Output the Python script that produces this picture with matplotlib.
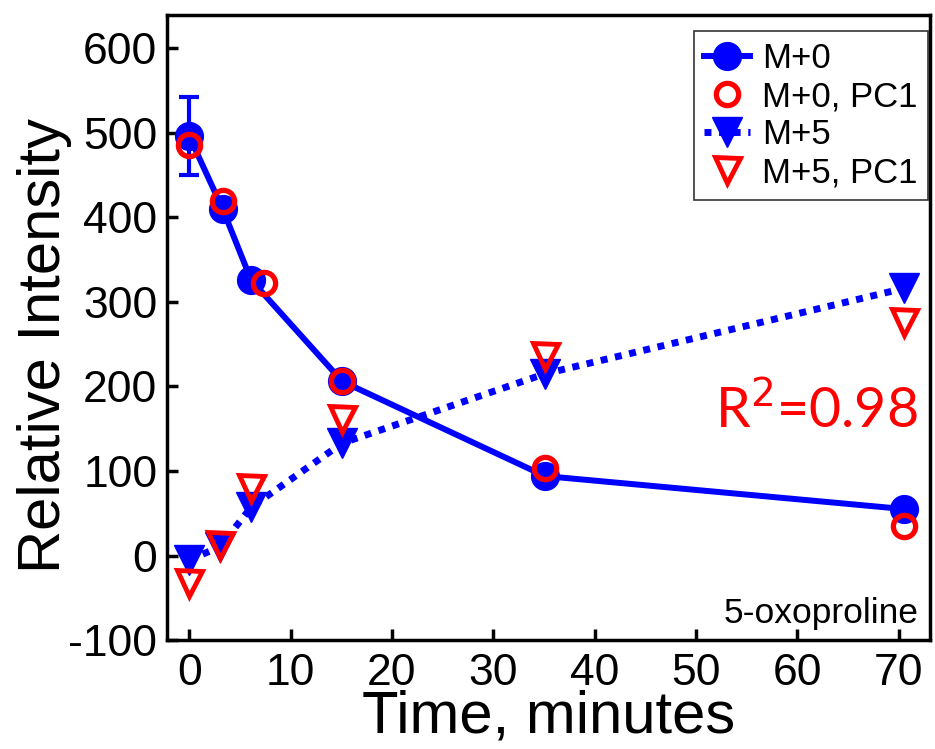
import numpy as np
import matplotlib
matplotlib.use("Agg")
from matplotlib import pyplot as plt

# time points (minutes)
t_m0 = [0, 3.3, 6.1, 15.1, 35.1, 70.5]
m0 = [496, 410, 326, 206, 94, 55]
m0_err = [46, 0, 0, 0, 0, 0]

t_m0_pc1 = [0, 3.3, 7.4, 15.1, 35.1, 70.5]
m0_pc1 = [486, 419, 323, 207, 103, 35]

t_m5 = [0, 3.0, 6.1, 15.1, 35.1, 70.5]
m5 = [-5, 10, 57, 133, 215, 316]

t_m5_pc1 = [0, 3.0, 6.1, 15.1, 35.1, 70.5]
m5_pc1 = [-32, 12, 80, 162, 236, 276]

xticks = [0, 10, 20, 30, 40, 50, 60, 70]
yticks = [-100, 0, 100, 200, 300, 400, 500, 600]

plt.rcParams['font.family'] = ['Liberation Sans', 'DejaVu Sans']
plt.rcParams['axes.unicode_minus'] = False

fig = plt.figure(figsize=(9.35, 7.49), dpi=100)
ax = fig.add_axes([0.1786, 0.1455, 0.816, 0.835])

blue = '#0000ff'
red = '#ff0000'

eb = ax.errorbar(t_m0, m0, yerr=m0_err, color=blue, lw=4.3, marker='o', ms=20,
                 capsize=7, capthick=3, elinewidth=3, zorder=3)
h1 = eb[0]
h2, = ax.plot(t_m0_pc1, m0_pc1, ls='none', marker='o', ms=16, mfc='none',
              mec=red, mew=3.8, zorder=4)
h3, = ax.plot(t_m5, m5, color=blue, lw=5, ls=(0, (1, 1.1)), marker='v', ms=22,
              zorder=3)
h4, = ax.plot(t_m5_pc1, m5_pc1, ls='none', marker='v', ms=18, mfc='none',
              mec=red, mew=3.5, zorder=4)

ax.set_xlim(-2.2, 73.1)
ax.set_ylim(-100, 640)
ax.set_xticks(xticks)
ax.set_yticks(yticks)
ax.tick_params(direction='in', length=8, width=2.5, labelsize=32)
ax.tick_params(axis='y', pad=7)
ax.tick_params(axis='x', pad=9)
for s in ax.spines.values():
    s.set_linewidth(2.5)

ax.set_xlabel('Time, minutes', fontsize=43, labelpad=-3)
ax.set_ylabel('Relative Intensity', fontsize=43, labelpad=-3)
ax.yaxis.label.set_y(0.471)

ax.text(71.9, 171, r'R$^2$=0.98', color=red, fontsize=40, ha='right',
        va='center', family=['Lato', 'DejaVu Sans'])
ax.text(72.0, -80, '5-oxoproline', fontsize=25.5, ha='right', va='baseline')

leg = ax.legend([h1, h2, h3, h4], ['M+0', 'M+0, PC1', 'M+5', 'M+5, PC1'],
                loc='upper right', fontsize=25, frameon=True, fancybox=False,
                edgecolor='black', handlelength=1.3, handletextpad=0.35,
                borderpad=0.3, labelspacing=0.15, borderaxespad=0,
                bbox_to_anchor=(0.997, 0.973))
leg.get_frame().set_linewidth(1.2)

fig.savefig('out.png', dpi=100)
